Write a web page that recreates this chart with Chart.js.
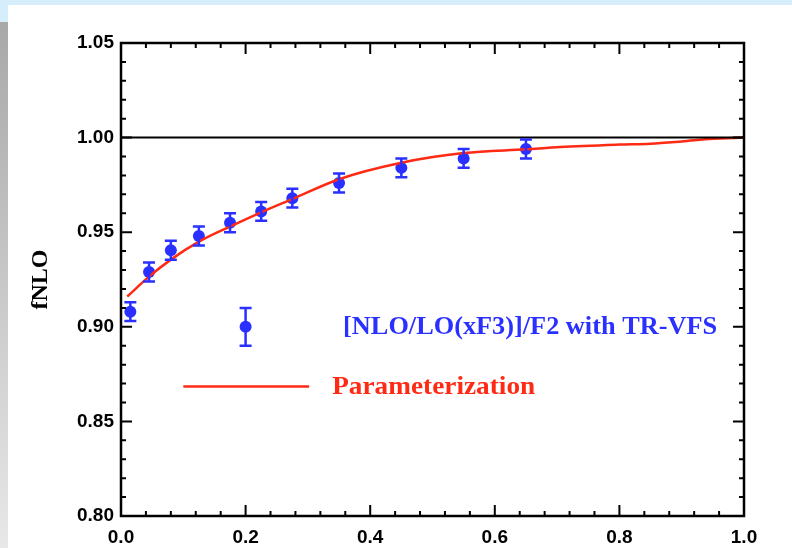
<!DOCTYPE html>
<html lang="en">
<head>
<meta charset="UTF-8">
<title>fNLO</title>
<script src="https://cdn.jsdelivr.net/npm/chart.js"></script>
<style>
  html, body { margin: 0; padding: 0; }
  body { width: 792px; height: 548px; background: #d6eefb; position: relative; overflow: hidden; }
  #paper { position: absolute; left: 8px; top: 5px; right: 0; bottom: 0; background: #fff; }
  #strip { position: absolute; left: 0; top: 22px; width: 8px; bottom: 0; background: linear-gradient(#a8a8a8, #e8e8e8); }
  #wrap { position: absolute; left: 0; top: 0; width: 792px; height: 548px; }
</style>
</head>
<body>
<div id="paper"></div>
<div id="strip"></div>
<div id="wrap"><canvas id="fnloChart" width="792" height="548"></canvas></div>
<script>
// measured points (blue) with symmetric errors
var dataX   = [0.015, 0.045, 0.08, 0.125, 0.175, 0.225, 0.275, 0.35, 0.45, 0.55, 0.65];
var dataY   = [0.908, 0.929, 0.9405, 0.948, 0.955, 0.961, 0.968, 0.976, 0.984, 0.989, 0.994];
var dataErr = [0.005, 0.005, 0.005, 0.005, 0.005, 0.005, 0.005, 0.005, 0.005, 0.005, 0.005];

// parameterization curve (red)
var curveX = [0.01, 0.045, 0.08, 0.125, 0.175, 0.225, 0.275, 0.35, 0.45, 0.55, 0.65, 0.705, 0.8, 0.85, 0.9, 0.95, 1.0];
var curveY = [0.916, 0.9265, 0.9355, 0.945, 0.953, 0.9605, 0.9675, 0.978, 0.9867, 0.9918, 0.9938, 0.995, 0.9963, 0.9968, 0.998, 0.9994, 1.0];

// reference line at 1
var refX = [0, 1];
var refY = [1.0, 1.0];

// legend key
var keyPointX = [0.2], keyPointY = [0.90], keyPointErr = [0.010];
var keyLineX = [0.1, 0.302], keyLineY = [0.8685, 0.8685];
var legendLabels = ['[NLO/LO(xF3)]/F2 with TR-VFS', 'Parameterization'];

var xTicks = [0.0, 0.2, 0.4, 0.6, 0.8, 1.0];
var yTicks = [0.80, 0.85, 0.90, 0.95, 1.00, 1.05];

var BLUE = '#2a30ff';
var RED = '#ff2a14';

function pts(xs, ys) {
    return xs.map(function (x, i) { return { x: x, y: ys[i] }; });
}

// error bars drawn through the scales
var errorBars = {
    id: 'errorBars',
    afterDatasetsDraw: function (chart) {
        var ctx = chart.ctx, xs = chart.scales.x, ys = chart.scales.y;
        function bars(X, Y, E) {
            for (var i = 0; i < X.length; i++) {
                var px = xs.getPixelForValue(X[i]);
                var top = ys.getPixelForValue(Y[i] + E[i]);
                var bot = ys.getPixelForValue(Y[i] - E[i]);
                ctx.beginPath();
                ctx.moveTo(px, top); ctx.lineTo(px, bot);
                ctx.moveTo(px - 6, top); ctx.lineTo(px + 6, top);
                ctx.moveTo(px - 6, bot); ctx.lineTo(px + 6, bot);
                ctx.stroke();
            }
        }
        ctx.save();
        ctx.strokeStyle = BLUE;
        ctx.lineWidth = 2.5;
        bars(dataX, dataY, dataErr);
        bars(keyPointX, keyPointY, keyPointErr);
        ctx.restore();
    }
};

// frame, inward ticks, legend text
var frame = {
    id: 'frame',
    afterDraw: function (chart) {
        var ctx = chart.ctx, a = chart.chartArea, xs = chart.scales.x, ys = chart.scales.y;
        ctx.save();
        ctx.strokeStyle = '#000';
        ctx.lineWidth = 2.5;
        ctx.strokeRect(a.left, a.top, a.right - a.left, a.bottom - a.top);
        ctx.lineWidth = 2;
        ctx.beginPath();
        for (var i = 0; i <= 25; i++) {
            var v = i * 0.04;
            var px = xs.getPixelForValue(v);
            var len = (i % 5 === 0) ? 11 : 5;
            ctx.moveTo(px, a.bottom); ctx.lineTo(px, a.bottom - len);
            ctx.moveTo(px, a.top); ctx.lineTo(px, a.top + len);
        }
        for (var j = 0; j <= 25; j++) {
            var w = 0.80 + j * 0.01;
            var py = ys.getPixelForValue(w);
            var l2 = (j % 5 === 0) ? 11 : 5;
            ctx.moveTo(a.left, py); ctx.lineTo(a.left + l2, py);
            ctx.moveTo(a.right, py); ctx.lineTo(a.right - l2, py);
        }
        ctx.stroke();

        // legend labels
        ctx.font = 'bold 26px "Liberation Serif", serif';
        ctx.textBaseline = 'middle';
        var lab = [
            { t: legendLabels[0], x: 0.3565, y: 0.8998, w: 374, c: BLUE },
            { t: legendLabels[1], x: 0.339, y: 0.868, w: 203, c: RED }
        ];
        lab.forEach(function (d) {
            var m = ctx.measureText(d.t).width;
            ctx.save();
            ctx.translate(xs.getPixelForValue(d.x), ys.getPixelForValue(d.y));
            ctx.scale(d.w / m, 1);
            ctx.fillStyle = d.c;
            ctx.fillText(d.t, 0, 0);
            ctx.restore();
        });
        ctx.restore();
    }
};

Chart.defaults.color = '#000';

var tickFont = { family: '"Liberation Sans", Arial, sans-serif', size: 19, weight: 'bold' };

var fnloChart = new Chart(document.getElementById('fnloChart').getContext('2d'), {
    type: 'scatter',
    data: {
        datasets: [
            {
                label: 'ref',
                data: pts(refX, refY),
                showLine: true,
                borderColor: '#000',
                borderWidth: 2,
                pointRadius: 0
            },
            {
                label: legendLabels[1],
                data: pts(curveX, curveY),
                showLine: true,
                borderColor: RED,
                borderWidth: 2.5,
                cubicInterpolationMode: 'monotone',
                pointRadius: 0
            },
            {
                label: 'key line',
                data: pts(keyLineX, keyLineY),
                showLine: true,
                borderColor: RED,
                borderWidth: 2.5,
                pointRadius: 0
            },
            {
                label: legendLabels[0],
                data: pts(dataX, dataY),
                backgroundColor: BLUE,
                borderColor: BLUE,
                pointRadius: 6,
                pointBorderWidth: 0
            },
            {
                label: 'key point',
                data: pts(keyPointX, keyPointY),
                backgroundColor: BLUE,
                borderColor: BLUE,
                pointRadius: 6,
                pointBorderWidth: 0
            }
        ]
    },
    options: {
        responsive: false,
        animation: false,
        layout: { padding: { left: 0, right: 48, top: 43, bottom: 0 } },
        plugins: {
            legend: { display: false },
            tooltip: { enabled: false }
        },
        scales: {
            x: {
                type: 'linear',
                min: 0, max: 1,
                grid: { display: false, drawTicks: false },
                border: { display: false },
                afterFit: function (s) { s.height = 32; },
                afterBuildTicks: function (s) { s.ticks = xTicks.map(function (v) { return { value: v }; }); },
                ticks: {
                    padding: 10,
                    maxRotation: 0,
                    font: tickFont,
                    callback: function (v) { return v.toFixed(1); }
                }
            },
            y: {
                type: 'linear',
                min: 0.80, max: 1.05,
                grid: { display: false, drawTicks: false },
                border: { display: false },
                afterFit: function (s) { s.width = 121; },
                afterBuildTicks: function (s) { s.ticks = yTicks.map(function (v) { return { value: v }; }); },
                title: {
                    display: true,
                    text: 'fNLO',
                    padding: { top: 26, bottom: 0 },
                    font: { family: '"Liberation Serif", serif', size: 24, weight: 'bold' }
                },
                ticks: {
                    padding: 7,
                    font: tickFont,
                    callback: function (v) { return v.toFixed(2); }
                }
            }
        }
    },
    plugins: [errorBars, frame]
});
</script>
</body>
</html>
